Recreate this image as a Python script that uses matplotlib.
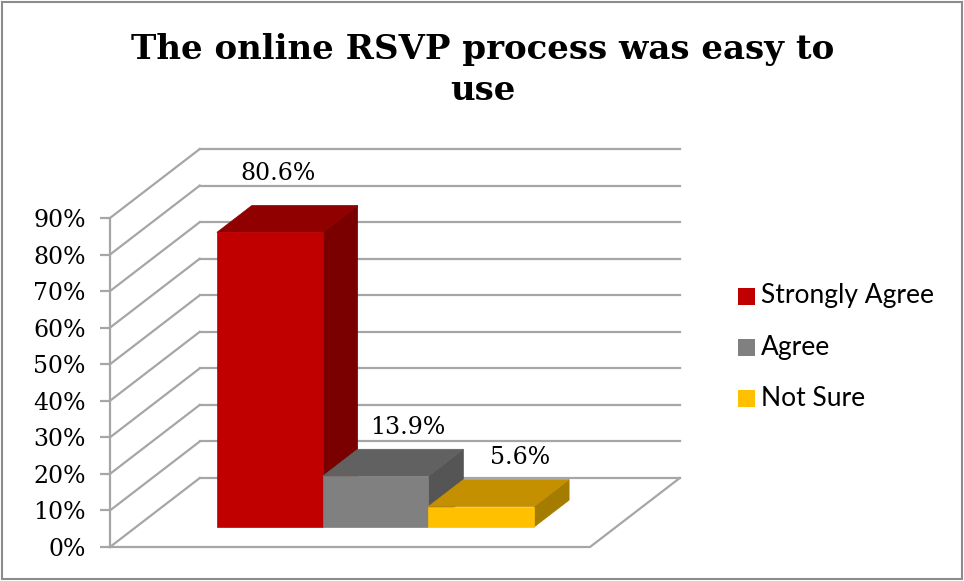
import numpy as np
import matplotlib
matplotlib.use('Agg')
import matplotlib.pyplot as plt
from matplotlib.patches import Polygon, Rectangle
from matplotlib.lines import Line2D

# ── data ──────────────────────────────────────
CATEGORIES = ['Strongly Agree', 'Agree', 'Not Sure']
VALUES     = [80.6, 13.9, 5.6]
TICKS      = [0, 10, 20, 30, 40, 50, 60, 70, 80, 90]
TITLE      = 'The online RSVP process was easy to\nuse'

# ── styling ───────────────────────────────────
FRONT = ['#C00000', '#808080', '#FFC000']
TOP   = ['#900000', '#616161', '#C49000']
SIDE  = ['#7A0000', '#555555', '#A47C00']
GRID  = '#A6A6A6'

# data label nudges (category units, %)
LABEL_DX = [0.32, 0.55, 0.61]
LABEL_DY = [21.7, 18.9, 19.0]

# oblique 3D geometry (data units)
XMAX = 4.54          # width of the floor in category units
GAP  = 0.765         # empty space left of the first bar
DX   = 0.849         # horizontal shift of the full depth
DY   = 18.87         # vertical shift of the full depth (in %)
T0, T1 = 0.29, 0.68  # bar depth range (fraction of full depth)

W, H = 964, 581
fig = plt.figure(figsize=(W / 100, H / 100), dpi=100)
ax = fig.add_axes([110 / W, (H - 547) / H, 480 / W, (547 - 218) / H])
ax.set_xlim(0, XMAX)
ax.set_ylim(0, 90)
ax.patch.set_visible(False)


def P(x, v, t):
    return (x + t * DX, v + t * DY)


# back wall and side wall gridlines
for v in TICKS:
    xa, ya = P(0, v, 1)
    xb, yb = P(XMAX, v, 1)
    ax.add_line(Line2D([xa, xb], [ya, yb], color=GRID, lw=1.6, zorder=1,
                       clip_on=False))
    ax.add_line(Line2D([0, xa], [v, ya], color=GRID, lw=1.6, zorder=1,
                       clip_on=False))

# floor edges
x1, y1 = P(XMAX, 0, 1)
ax.add_line(Line2D([0, XMAX, x1], [0, 0, y1], color=GRID, lw=1.6,
                   zorder=1, clip_on=False))

# bars
for i, (v, cf, ct, cs) in enumerate(zip(VALUES, FRONT, TOP, SIDE)):
    xl, xr = GAP + i, GAP + i + 1
    front = [P(xl, 0, T0), P(xr, 0, T0), P(xr, v, T0), P(xl, v, T0)]
    top   = [P(xl, v, T0), P(xr, v, T0), P(xr, v, T1), P(xl, v, T1)]
    side  = [P(xr, 0, T0), P(xr, 0, T1), P(xr, v, T1), P(xr, v, T0)]
    for pts, c in ((side, cs), (top, ct), (front, cf)):
        ax.add_patch(Polygon(pts, closed=True, facecolor=c, edgecolor=c,
                             lw=0.5, zorder=3 + i, clip_on=False))
    lx, ly = P(GAP + i + 0.5 + LABEL_DX[i], v + LABEL_DY[i], 0)
    ax.text(lx, ly, f'{v:.1f}%', ha='center', va='center', fontsize=17,
            family='DejaVu Serif', color='black', zorder=10)

# y axis
for s in ['top', 'right', 'bottom']:
    ax.spines[s].set_visible(False)
ax.spines['left'].set_color(GRID)
ax.spines['left'].set_linewidth(1.6)
ax.set_xticks([])
ax.set_yticks(TICKS)
ax.set_yticklabels([f'{t}%' for t in TICKS], family='DejaVu Serif',
                   fontsize=17)
ax.tick_params(axis='y', length=7, width=1.6, color=GRID, pad=10.5)

# title
fig.text(483 / W, 1 - 70 / H, TITLE, ha='center', va='center',
         fontsize=24.5, fontweight='bold', family='DejaVu Serif',
         linespacing=1.3)

# legend
for i, (name, c) in enumerate(zip(CATEGORIES, FRONT)):
    yc = 296 + 51 * i
    fig.add_artist(Rectangle((738 / W, 1 - (yc + 8.5) / H), 17 / W, 17 / H,
                             transform=fig.transFigure, facecolor=c,
                             edgecolor='none'))
    fig.text(761 / W, 1 - yc / H, name, ha='left', va='center',
             fontsize=19, family='Lato')

# chart border
fig.add_artist(Rectangle((2 / W, 2 / H), (W - 4) / W, (H - 4) / H,
                         transform=fig.transFigure, fill=False,
                         edgecolor='#8C8C8C', lw=1.5))

fig.savefig('out.png', dpi=100)
